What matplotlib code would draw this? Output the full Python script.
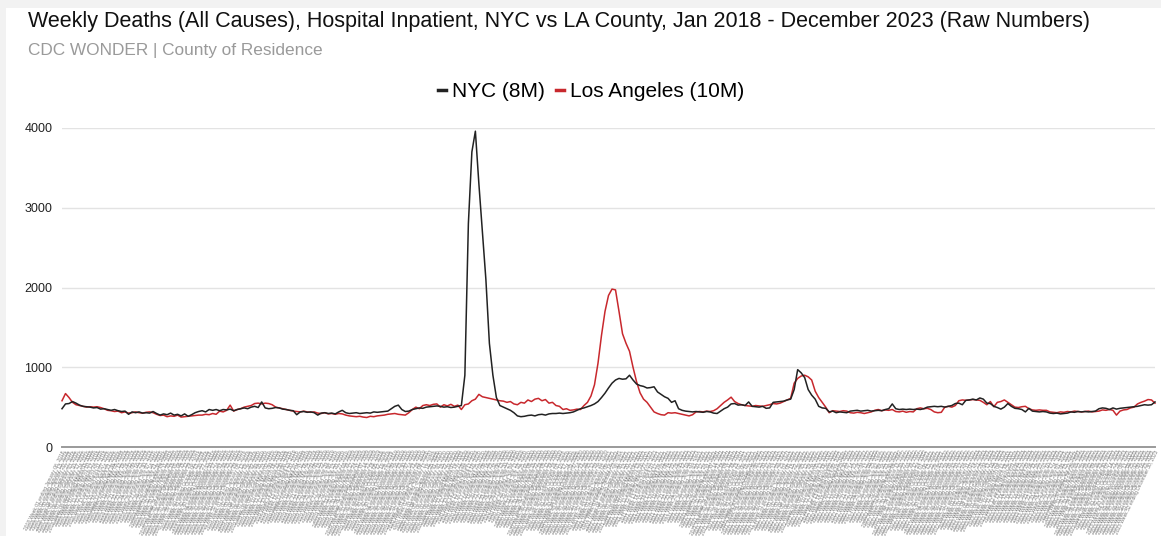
import matplotlib
matplotlib.use("Agg")
import matplotlib.pyplot as plt
import matplotlib.patches as patches
import pandas as pd

plt.rcParams['font.family'] = ['Liberation Sans', 'DejaVu Sans']

W, H = 1161, 536

# Semanas MMWR por año (2020 tiene 53)
YEARS = [2018, 2019, 2020, 2021, 2022, 2023]
WEEKS_PER_YEAR = [52, 52, 53, 52, 52, 52]

# Muertes semanales NYC (lectura aproximada del gráfico)
nyc_2018 = [480, 540, 545, 570, 550, 525, 510, 505, 500, 490, 495, 475, 480, 470, 460,
            470, 455, 445, 450, 410, 440, 430, 440, 425, 430, 425, 445, 420, 400, 415,
            405, 425, 400, 410, 390, 415, 385, 405, 430, 445, 455, 440, 470, 460, 470,
            455, 470, 465, 475, 455, 470, 480]
nyc_2019 = [490, 480, 500, 510, 495, 565, 490, 480, 485, 495, 490, 475, 470, 460, 455,
            405, 440, 445, 435, 440, 430, 400, 425, 430, 420, 425, 415, 440, 460, 430,
            420, 425, 430, 420, 425, 430, 425, 440, 435, 440, 445, 450, 480, 510, 525,
            470, 445, 450, 470, 480, 490, 485]
nyc_2020 = [500, 505, 510, 515, 510, 500, 505, 495, 500, 510, 520, 900, 2800, 3700, 3960,
            3300, 2700, 2100, 1300, 900, 620, 520, 500, 480, 460, 430, 390, 380, 385, 395,
            400, 390, 405, 410, 400, 415, 420, 420, 425, 420, 425, 430, 440, 460, 480,
            490, 505, 520, 540, 570, 620, 675, 740]
nyc_2021 = [800, 840, 860, 850, 855, 900, 840, 790, 770, 760, 740, 745, 755, 690, 660,
            630, 610, 560, 580, 480, 460, 450, 445, 440, 445, 440, 435, 445, 440, 425,
            420, 450, 480, 500, 540, 545, 525, 530, 520, 565, 510, 505, 500, 510, 485,
            490, 560, 565, 570, 575, 590, 600]
nyc_2022 = [720, 970, 930, 870, 720, 650, 600, 510, 490, 485, 440, 450, 430, 440, 435,
            430, 450, 455, 460, 450, 455, 460, 450, 455, 460, 455, 470, 480, 540, 480,
            470, 475, 470, 475, 470, 475, 470, 480, 500, 505, 510, 505, 510, 500, 510,
            520, 545, 550, 530, 585, 590, 600]
nyc_2023 = [590, 615, 600, 550, 545, 510, 495, 475, 500, 545, 510, 485, 480, 470, 440,
            485, 450, 445, 440, 445, 440, 425, 420, 425, 415, 420, 425, 440, 435, 445,
            440, 445, 440, 445, 450, 480, 490, 485, 470, 490, 475, 485, 490, 495, 500,
            505, 510, 520, 530, 525, 530, 565]

# Muertes semanales Los Angeles
la_2018 = [580, 670, 620, 560, 530, 520, 510, 500, 505, 500, 505, 495, 480, 460, 455,
           445, 450, 430, 440, 425, 430, 440, 430, 425, 435, 440, 430, 410, 395, 400,
           380, 390, 385, 400, 375, 380, 385, 390, 395, 400, 400, 410, 405, 420, 410,
           450, 440, 460, 525, 450, 470, 480]
la_2019 = [500, 510, 520, 545, 550, 540, 550, 545, 530, 500, 490, 480, 470, 460, 450,
           445, 440, 450, 440, 435, 440, 425, 420, 430, 415, 420, 410, 420, 415, 400,
           390, 385, 380, 385, 375, 370, 385, 380, 390, 395, 400, 410, 415, 420, 410,
           405, 400, 430, 470, 500, 480, 520]
la_2020 = [530, 520, 535, 540, 500, 530, 515, 535, 510, 525, 470, 530, 540, 580, 600,
           660, 630, 620, 610, 600, 590, 580, 575, 560, 570, 540, 530, 560, 550, 590,
           570, 600, 610, 580, 595, 550, 560, 520, 510, 470, 480, 460, 465, 475, 470,
           520, 560, 640, 780, 1050, 1400, 1700, 1900]
la_2021 = [1980, 1970, 1700, 1420, 1300, 1200, 1000, 820, 680, 600, 560, 500, 440, 420, 405,
           400, 430, 425, 430, 420, 410, 400, 390, 405, 440, 445, 440, 450, 445, 455,
           480, 520, 560, 590, 625, 570, 545, 530, 520, 515, 510, 520, 515, 510, 520,
           530, 545, 540, 550, 570, 590, 610]
la_2022 = [800, 860, 890, 900, 880, 840, 700, 620, 560, 500, 430, 455, 450, 445, 455,
           450, 430, 425, 435, 430, 420, 430, 440, 460, 470, 455, 465, 460, 470, 445,
           440, 450, 435, 445, 440, 480, 490, 480, 485, 470, 440, 430, 435, 500, 510,
           500, 520, 580, 590, 585, 590, 595]
la_2023 = [590, 585, 560, 530, 570, 505, 560, 570, 590, 560, 530, 500, 495, 505, 510,
           480, 465, 460, 465, 460, 460, 440, 435, 430, 440, 435, 445, 440, 450, 445,
           440, 445, 450, 440, 445, 450, 465, 460, 470, 460, 400, 450, 465, 470, 490,
           500, 540, 560, 575, 595, 590, 550]

nyc = nyc_2018 + nyc_2019 + nyc_2020 + nyc_2021 + nyc_2022 + nyc_2023
la = la_2018 + la_2019 + la_2020 + la_2021 + la_2022 + la_2023

# Etiquetas del eje x: una por semana
week_end = pd.date_range('2018-01-06', periods=sum(WEEKS_PER_YEAR), freq='7D')
week_labels = []
k = 0
for yr, nw in zip(YEARS, WEEKS_PER_YEAR):
    for w in range(1, nw + 1):
        d = week_end[k]
        week_labels.append(f"{yr} Week {w:02d} ending {d:%B %d, %Y}")
        k += 1

y_ticks = [0, 1000, 2000, 3000, 4000]

fig = plt.figure(figsize=(W / 100, H / 100), dpi=100, facecolor='#f2f2f2')
# tarjeta blanca
fig.patches.append(patches.Rectangle((6 / W, 0), 1 - 6 / W, 1 - 8 / H,
                                     transform=fig.transFigure, facecolor='white',
                                     edgecolor='none', zorder=-5))

x0, x1 = 62, 1155
y_top, y_bot = 128, 447
ax = fig.add_axes([x0 / W, 1 - y_bot / H, (x1 - x0) / W, (y_bot - y_top) / H])
ax.set_facecolor('none')
ax.set_zorder(2)

x = list(range(len(nyc)))
ax.plot(x, nyc, color='#222222', lw=1.1, label='NYC (8M)', clip_on=False, zorder=3)
ax.plot(x, la, color='#c8282d', lw=1.1, label='Los Angeles (10M)', clip_on=False, zorder=2)

ax.set_xlim(0, len(nyc) - 1)
ax.set_ylim(0, 4000)
ax.set_yticks(y_ticks)
ax.set_yticklabels([str(v) for v in y_ticks], fontsize=9, color='#222222')
ax.grid(axis='y', color='#e3e3e3', lw=1)
ax.tick_params(axis='y', length=0, pad=7)
for s in ['top', 'right', 'left']:
    ax.spines[s].set_visible(False)
ax.spines['bottom'].set_color('#9a9a9a')
ax.spines['bottom'].set_linewidth(1.4)

ax.set_xticks(x)
ax.set_xticklabels(week_labels, rotation=64, ha='right', rotation_mode='anchor',
                   fontsize=3.5, color='#7a7a7a')
ax.tick_params(axis='x', length=0, pad=2)

fig.text(28 / W, 1 - 22 / H,
         'Weekly Deaths (All Causes), Hospital Inpatient, NYC vs LA County, Jan 2018 - December 2023 (Raw Numbers)',
         fontsize=15.5, color='#111111', va='center', ha='left')
fig.text(28 / W, 1 - 51 / H, 'CDC WONDER | County of Residence',
         fontsize=12.4, color='#9a9a9a', va='center', ha='left')

fig.legend(loc='center', bbox_to_anchor=(591 / W, 1 - 92 / H), ncol=2, frameon=False,
           fontsize=15, handlelength=0.4, handletextpad=0.3, columnspacing=0.5)
for h in fig.legends[0].legend_handles:
    h.set_linewidth(2.5)

fig.savefig('out.png', dpi=100, facecolor=fig.get_facecolor())
